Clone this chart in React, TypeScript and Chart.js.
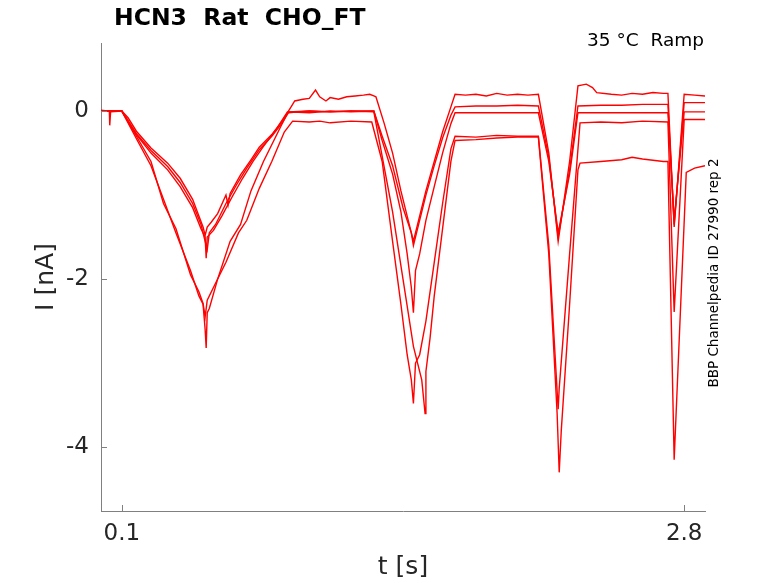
import { useEffect, useRef } from "react";
import { Chart, registerables } from "chart.js";

Chart.register(...registerables);

const title = "HCN3  Rat  CHO_FT";
const condition = "35 °C  Ramp";
const sideNote = "BBP Channelpedia ID 27990 rep 2";
const xLabel = "t [s]";
const yLabel = "I [nA]";
const xTicks = [0.1, 2.8];
const yTicks = [-4, -2, 0];

// sweeps, [t in s, I in nA]
const sweep1 = [
  [0, 0.01], [0.04, 0], [0.042, -0.17], [0.046, -0.01], [0.1, 0], [0.13, -0.08], [0.17, -0.24],
  [0.24, -0.44], [0.32, -0.62], [0.38, -0.8], [0.44, -1.05], [0.47, -1.25], [0.49, -1.38],
  [0.5, -1.48], [0.51, -1.38], [0.53, -1.32], [0.56, -1.22], [0.6, -1.0], [0.61, -1.12],
  [0.62, -0.98], [0.67, -0.76], [0.72, -0.58], [0.76, -0.43], [0.82, -0.28], [0.87, -0.12],
  [0.9, 0], [0.92, 0.08], [0.93, 0.12], [0.97, 0.14], [1.0, 0.15], [1.03, 0.25], [1.05, 0.17],
  [1.08, 0.12], [1.1, 0.16], [1.14, 0.14], [1.18, 0.17], [1.22, 0.18], [1.26, 0.19], [1.29, 0.2],
  [1.31, 0.18], [1.32, 0.17], [1.36, -0.15], [1.4, -0.5], [1.44, -0.95], [1.47, -1.25],
  [1.5, -1.55], [1.52, -1.35], [1.56, -0.95], [1.6, -0.6], [1.64, -0.25], [1.68, 0.05],
  [1.7, 0.2], [1.75, 0.19], [1.8, 0.2], [1.85, 0.18], [1.9, 0.21], [1.95, 0.19], [2.0, 0.2],
  [2.05, 0.19], [2.1, 0.2], [2.15, -0.5], [2.195, -1.55], [2.25, -0.6], [2.29, 0.3],
  [2.33, 0.32], [2.36, 0.28], [2.38, 0.22], [2.45, 0.2], [2.5, 0.19], [2.55, 0.21], [2.6, 0.2],
  [2.65, 0.22], [2.7, 0.21], [2.722, 0.21], [2.752, -1.38], [2.8, 0.2], [2.85, 0.19], [2.9, 0.18],
];

const sweep2 = [
  [0, 0], [0.1, 0], [0.17, -0.27], [0.24, -0.47], [0.32, -0.66], [0.38, -0.85], [0.44, -1.1],
  [0.48, -1.35], [0.5, -1.55], [0.51, -1.65], [0.52, -1.45], [0.55, -1.35], [0.6, -1.1],
  [0.65, -0.88], [0.7, -0.68], [0.76, -0.46], [0.82, -0.3], [0.87, -0.14], [0.9, -0.02],
  [0.95, -0.01], [1.0, 0], [1.1, -0.01], [1.2, 0], [1.31, 0], [1.35, -0.3], [1.4, -0.65],
  [1.45, -1.15], [1.49, -1.45], [1.5, -1.6], [1.52, -1.4], [1.56, -1.0], [1.6, -0.65],
  [1.64, -0.32], [1.68, -0.05], [1.7, 0.05], [1.8, 0.06], [1.9, 0.06], [2.0, 0.07], [2.1, 0.06],
  [2.15, -0.55], [2.195, -1.5], [2.25, -0.7], [2.29, 0.06], [2.4, 0.07], [2.5, 0.07],
  [2.6, 0.08], [2.722, 0.08], [2.752, -1.35], [2.8, 0.1], [2.9, 0.1],
];

const sweep3 = [
  [0, 0], [0.1, 0], [0.17, -0.28], [0.24, -0.5], [0.32, -0.7], [0.38, -0.9], [0.44, -1.15],
  [0.48, -1.4], [0.5, -1.5], [0.505, -1.75], [0.51, -1.5], [0.54, -1.42], [0.58, -1.25],
  [0.63, -1.02], [0.68, -0.8], [0.73, -0.6], [0.78, -0.42], [0.84, -0.22], [0.895, -0.01],
  [1.0, -0.02], [1.1, 0], [1.2, -0.01], [1.31, 0], [1.35, -0.35], [1.4, -0.75], [1.44, -1.2],
  [1.47, -1.7], [1.49, -2.1], [1.5, -2.4], [1.51, -1.9], [1.53, -1.7], [1.56, -1.3],
  [1.6, -0.9], [1.64, -0.5], [1.68, -0.15], [1.7, -0.02], [1.8, -0.02], [1.9, -0.02],
  [2.0, -0.02], [2.1, -0.02], [2.15, -0.6], [2.195, -1.45], [2.25, -0.75], [2.29, -0.02],
  [2.4, -0.02], [2.5, -0.02], [2.6, -0.02], [2.722, -0.02], [2.752, -1.3], [2.8, -0.01],
  [2.9, -0.01],
];

const sweep4 = [
  [0, 0], [0.1, 0], [0.17, -0.3], [0.24, -0.6], [0.3, -1.1], [0.36, -1.4], [0.43, -1.95],
  [0.47, -2.15], [0.49, -2.29], [0.5, -2.45], [0.51, -2.25], [0.55, -2.05], [0.6, -1.8],
  [0.66, -1.45], [0.7, -1.3], [0.76, -0.92], [0.82, -0.6], [0.88, -0.25], [0.92, -0.12],
  [1.0, -0.13], [1.05, -0.12], [1.1, -0.14], [1.2, -0.12], [1.3, -0.13], [1.35, -0.6],
  [1.4, -1.55], [1.44, -2.3], [1.47, -2.9], [1.49, -3.2], [1.5, -3.48], [1.51, -3.0],
  [1.53, -2.9], [1.56, -2.5], [1.6, -1.8], [1.64, -1.1], [1.68, -0.45], [1.7, -0.3],
  [1.8, -0.31], [1.9, -0.29], [2.0, -0.3], [2.1, -0.3], [2.15, -1.6], [2.195, -3.55],
  [2.2, -3.3], [2.25, -1.7], [2.3, -0.14], [2.4, -0.13], [2.5, -0.14], [2.6, -0.12],
  [2.722, -0.13], [2.752, -2.39], [2.8, -0.1], [2.9, -0.1],
];

const sweep5 = [
  [0, 0], [0.1, 0], [0.17, -0.33], [0.24, -0.65], [0.3, -1.05], [0.36, -1.45], [0.43, -1.9],
  [0.47, -2.2], [0.49, -2.3], [0.5, -2.6], [0.505, -2.82], [0.51, -2.4], [0.52, -2.35],
  [0.56, -2.0], [0.62, -1.55], [0.67, -1.35], [0.72, -0.95], [0.78, -0.6], [0.84, -0.3],
  [0.89, -0.05], [0.9, -0.01], [1.0, 0], [1.1, -0.01], [1.2, 0], [1.31, -0.01], [1.4, -1.2],
  [1.45, -2.0], [1.5, -2.8], [1.52, -3.0], [1.54, -3.2], [1.556, -3.6], [1.56, -3.1],
  [1.58, -2.7], [1.6, -2.2], [1.62, -1.8], [1.65, -1.2], [1.68, -0.6], [1.7, -0.35],
  [1.8, -0.34], [1.9, -0.32], [2.0, -0.31], [2.1, -0.31], [2.15, -1.7], [2.19, -3.6],
  [2.2, -4.3], [2.21, -3.8], [2.25, -2.3], [2.29, -0.7], [2.3, -0.62], [2.4, -0.6],
  [2.5, -0.58], [2.55, -0.55], [2.6, -0.57], [2.7, -0.6], [2.722, -0.6], [2.752, -4.15],
  [2.81, -0.73], [2.85, -0.68], [2.9, -0.65],
];

const sweeps = [sweep1, sweep2, sweep3, sweep4, sweep5];

const font = "'DejaVu Sans', sans-serif";
const axisColor = "#808080";
const textColor = "#262626";

const decorations = {
  id: "decorations",
  afterDraw(chart: Chart) {
    const { ctx, chartArea, scales } = chart;
    ctx.save();
    // inward tick marks
    ctx.strokeStyle = axisColor;
    ctx.lineWidth = 1;
    xTicks.forEach((v) => {
      const px = Math.round(scales.x.getPixelForValue(v)) + 0.5;
      ctx.beginPath();
      ctx.moveTo(px, chartArea.bottom);
      ctx.lineTo(px, chartArea.bottom - 6);
      ctx.stroke();
    });
    yTicks.forEach((v) => {
      const py = Math.round(scales.y.getPixelForValue(v)) + 0.5;
      ctx.beginPath();
      ctx.moveTo(chartArea.left, py);
      ctx.lineTo(chartArea.left + 6, py);
      ctx.stroke();
    });

    ctx.fillStyle = "#000";
    ctx.textBaseline = "middle";
    ctx.textAlign = "left";
    ctx.font = `bold 23.5px ${font}`;
    ctx.fillText(title, 114, 19);

    ctx.textAlign = "right";
    ctx.font = `18.5px ${font}`;
    ctx.fillText(condition, 704, 41);

    ctx.fillStyle = textColor;
    ctx.textAlign = "center";
    ctx.font = `25px ${font}`;
    ctx.fillText(xLabel, (chartArea.left + chartArea.right) / 2, 567);

    ctx.save();
    ctx.translate(46, (chartArea.top + chartArea.bottom) / 2);
    ctx.rotate(-Math.PI / 2);
    ctx.fillText(yLabel, 0, 0);
    ctx.restore();

    ctx.save();
    ctx.fillStyle = "#000";
    ctx.translate(714, 273);
    ctx.rotate(-Math.PI / 2);
    ctx.font = `13.5px ${font}`;
    ctx.fillText(sideNote, 0, 0);
    ctx.restore();

    ctx.restore();
  },
};

export default function App() {
  const canvasRef = useRef<HTMLCanvasElement>(null);
  const chartRef = useRef<Chart | null>(null);

  useEffect(() => {
    if (!canvasRef.current) return;
    if (chartRef.current) chartRef.current.destroy();

    chartRef.current = new Chart(canvasRef.current, {
      type: "line",
      data: {
        datasets: sweeps.map((s, i) => ({
          label: `sweep ${i + 1}`,
          data: s.map(([x, y]) => ({ x, y })),
          borderColor: "rgb(255, 0, 0)",
          borderWidth: 1.4,
          pointRadius: 0,
          tension: 0,
          fill: false,
        })),
      },
      options: {
        animation: false,
        responsive: true,
        maintainAspectRatio: false,
        layout: { padding: { left: 0, top: 43, right: 73, bottom: 0 } },
        plugins: {
          legend: { display: false },
          tooltip: { enabled: false },
        },
        scales: {
          x: {
            type: "linear",
            min: 0,
            max: 2.9,
            afterBuildTicks: (scale) => {
              scale.ticks = xTicks.map((value) => ({ value }));
            },
            afterFit: (scale) => {
              scale.height = 72;
            },
            grid: { display: false, drawTicks: false },
            border: { display: true, color: axisColor, width: 1 },
            ticks: {
              color: textColor,
              font: { family: font, size: 23 },
              padding: 9,
              maxRotation: 0,
              callback: (v) => String(v),
            },
          },
          y: {
            type: "linear",
            min: -4.76,
            max: 0.81,
            afterBuildTicks: (scale) => {
              scale.ticks = yTicks.map((value) => ({ value }));
            },
            afterFit: (scale) => {
              scale.width = 101;
            },
            grid: { display: false, drawTicks: false },
            border: { display: true, color: axisColor, width: 1 },
            ticks: {
              color: textColor,
              font: { family: font, size: 23 },
              padding: 12,
              callback: (v) => String(v),
            },
          },
        },
      },
      plugins: [decorations],
    });

    return () => {
      if (chartRef.current) {
        chartRef.current.destroy();
        chartRef.current = null;
      }
    };
  }, []);

  return (
    <div style={{ position: "absolute", left: 0, top: 0, width: 778, height: 583, background: "#fff" }}>
      <canvas ref={canvasRef} />
    </div>
  );
}
